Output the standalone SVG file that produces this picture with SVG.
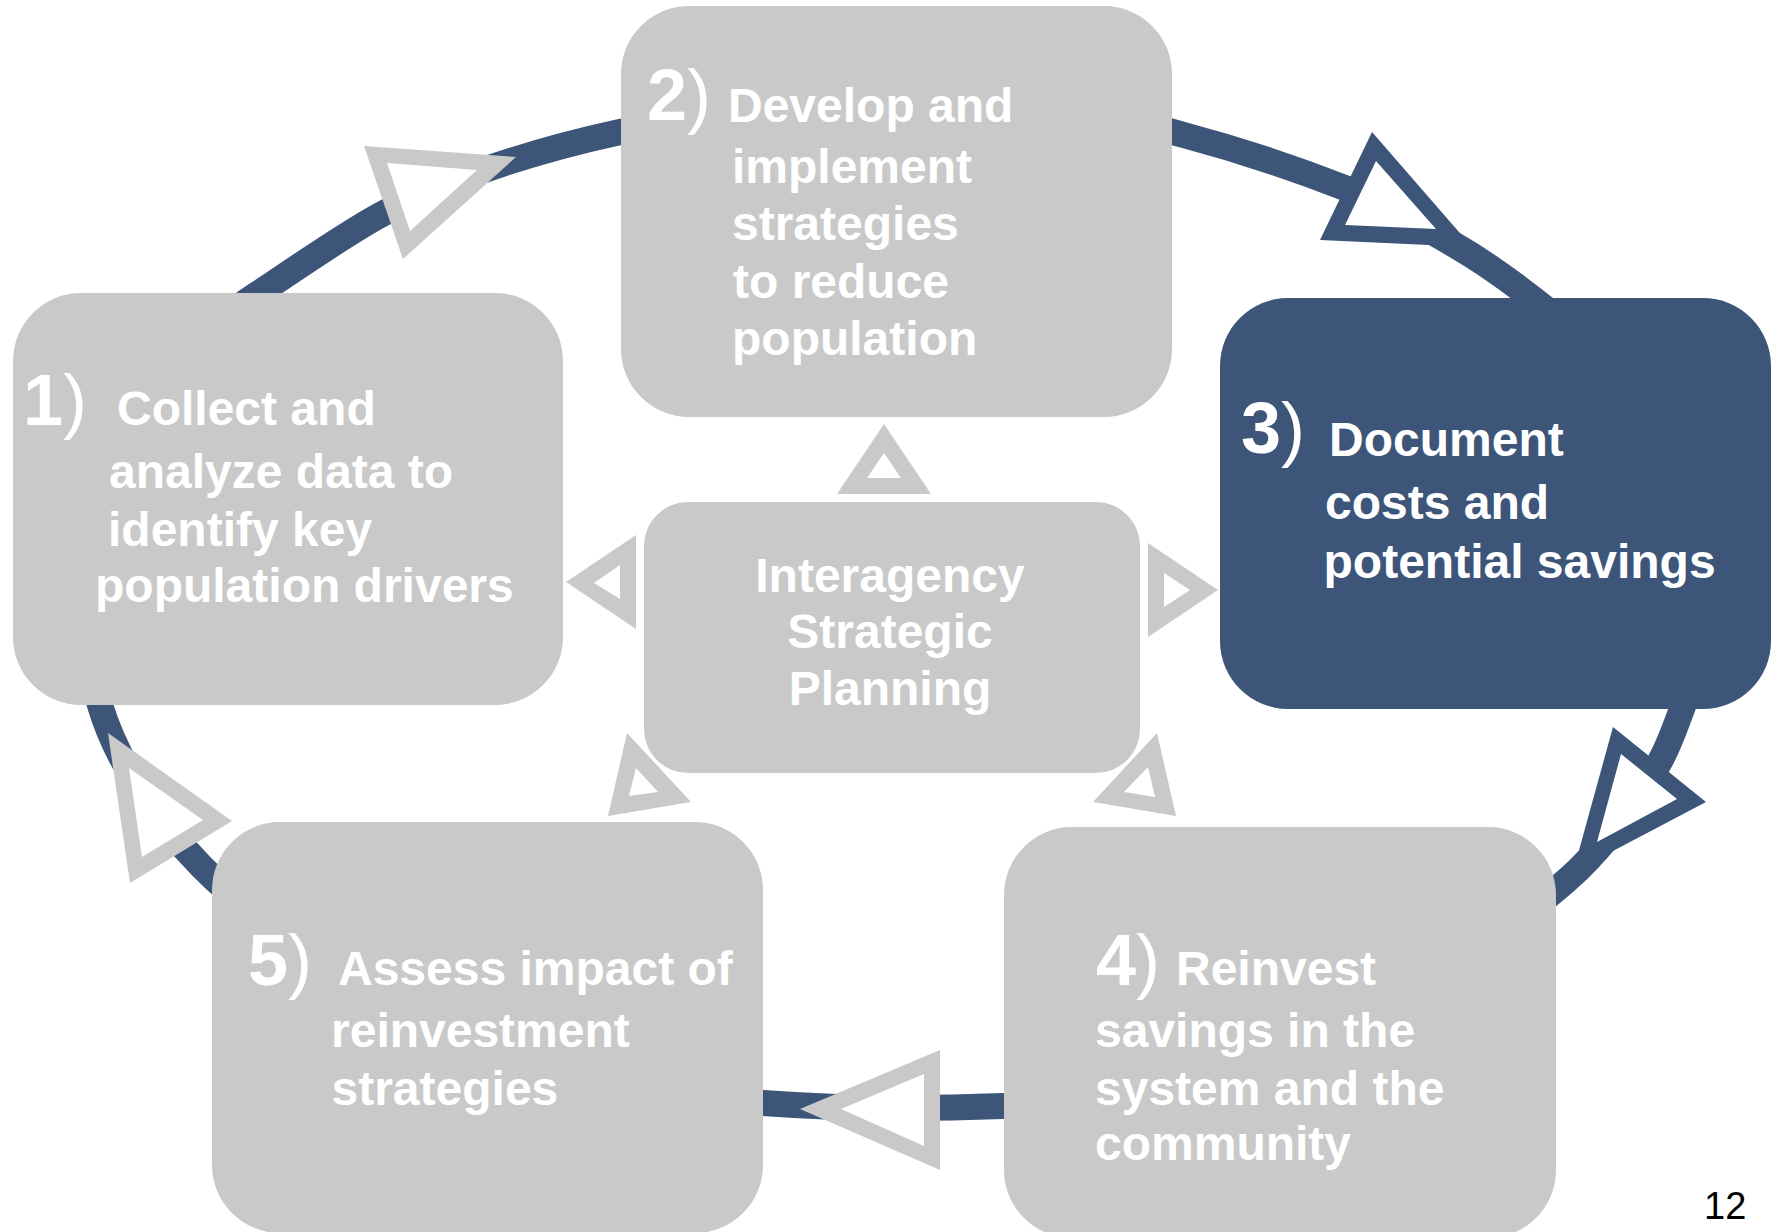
<svg xmlns="http://www.w3.org/2000/svg" width="1781" height="1232" viewBox="0 0 1781 1232">
<style>
.box{fill:#C9C9C9}
.hl{fill:#3C5579}
.ring{fill:none;stroke:#3C5579;stroke-width:26}
.ag{fill:#C9C9C9}
.ab{fill:#3C5579}
.hole{fill:#FFFFFF}
text{font-family:"Liberation Sans",Arial,Helvetica,sans-serif;fill:#FFFFFF}
.t{font-size:48px;font-weight:bold}
.num{font-size:72px;font-weight:bold}
.par{font-weight:normal}
.mid{text-anchor:middle}
.pg{font-size:38px;fill:#000000}
</style>
<rect width="1781" height="1232" fill="#FFFFFF"/>
<g id="connectors">
<path class="ring" d="M259,293 C294,270 349,231 386,212 C457,175 542,149 620,132 C815,89 988,78 1180,134 C1233,148 1294,168 1345,188 C1380,202 1425,227.5 1458,247 C1482,261 1510,281 1532,298 C1690,420 1753,522 1682,709 C1675,727 1669,746 1659,763 C1636,802 1610,839 1578,870 C1470,973 1203,1102 1003,1106 C923,1109 843,1109 763,1103 C563,1101 306,974 201,866 C159,823 117,763 100,705 C56.5,561 116,385 259,293 Z"/>
<g id="arrow-1-2"><polygon class="ag" points="364,146 516,157 403,259"/><polygon class="hole" points="387,163 477,170 410,231"/></g>
<g id="arrow-2-3"><polygon class="ab" points="1372,132 1472,247 1320,240"/><polygon class="hole" points="1376,161 1436,229 1345,225"/></g>
<g id="arrow-3-4"><polygon class="ab" points="1613,727 1706,802 1573,872"/><polygon class="hole" points="1621,754 1677,799 1597,842"/></g>
<g id="arrow-4-5"><polygon class="ag" points="940,1050 940,1170 800,1109"/><polygon class="hole" points="924,1074 924,1146 841,1109"/></g>
<g id="arrow-5-1"><polygon class="ag" points="108,733 232,821 130,883"/><polygon class="hole" points="129,768 203,820 142,857"/></g>
<g id="arrow-c-1"><polygon class="ag" points="636,535 636,629 566,582"/><polygon class="hole" points="620,565 620,599 594,583"/></g>
<g id="arrow-c-2"><polygon class="ag" points="884,424 931,494 837,494"/><polygon class="hole" points="884,453 901,478 867,478"/></g>
<g id="arrow-c-3"><polygon class="ag" points="1148,543 1218,590 1148,637"/><polygon class="hole" points="1164,573 1190,590 1164,607"/></g>
<g id="arrow-c-4"><polygon class="ag" points="1157,733 1176,816 1093,802"/><polygon class="hole" points="1148,767 1155,797 1124,792"/></g>
<g id="arrow-c-5"><polygon class="ag" points="627,733 691,802 608,816"/><polygon class="hole" points="636,768 658,792 629,796"/></g>
</g>
<g id="node-1">
<rect class="box" x="13" y="293" width="550" height="412" rx="68" ry="68"/>
<text class="num" x="23" y="425">1<tspan class="par">)</tspan></text>
<text class="t" x="117" y="425">Collect and</text>
<text class="t" x="109" y="488">analyze data to</text>
<text class="t" x="108" y="546">identify key</text>
<text class="t" x="95" y="602">population drivers</text>
</g>
<g id="node-2">
<rect class="box" x="621" y="6" width="551" height="411" rx="68" ry="68"/>
<text class="num" x="647" y="120">2<tspan class="par">)</tspan></text>
<text class="t" x="728" y="122">Develop and</text>
<text class="t" x="732" y="183">implement</text>
<text class="t" x="732" y="240">strategies</text>
<text class="t" x="733" y="298">to reduce</text>
<text class="t" x="732" y="355">population</text>
</g>
<g id="node-3">
<rect class="hl" x="1220" y="298" width="551" height="411" rx="68" ry="68"/>
<text class="num" x="1241" y="453">3<tspan class="par">)</tspan></text>
<text class="t" x="1329" y="456">Document</text>
<text class="t" x="1325" y="519">costs and</text>
<text class="t" x="1323.5" y="578">potential savings</text>
</g>
<g id="node-4">
<rect class="box" x="1004" y="827" width="552" height="411" rx="68" ry="68"/>
<text class="num" x="1096" y="985">4<tspan class="par">)</tspan></text>
<text class="t" x="1176" y="985">Reinvest</text>
<text class="t" x="1095" y="1047">savings in the</text>
<text class="t" x="1095" y="1105">system and the</text>
<text class="t" x="1095" y="1160">community</text>
</g>
<g id="node-5">
<rect class="box" x="212" y="822" width="551" height="411" rx="68" ry="68"/>
<text class="num" x="248" y="985">5<tspan class="par">)</tspan></text>
<text class="t" x="338" y="985">Assess impact of</text>
<text class="t" x="331" y="1047">reinvestment</text>
<text class="t" x="331.5" y="1105">strategies</text>
</g>
<g id="node-center">
<rect class="box" x="644" y="502" width="496" height="271" rx="44" ry="44"/>
<text class="t mid" x="890" y="592">Interagency</text>
<text class="t mid" x="890" y="648">Strategic</text>
<text class="t mid" x="890" y="705">Planning</text>
</g>
<text class="pg" x="1704" y="1219">12</text>
</svg>
